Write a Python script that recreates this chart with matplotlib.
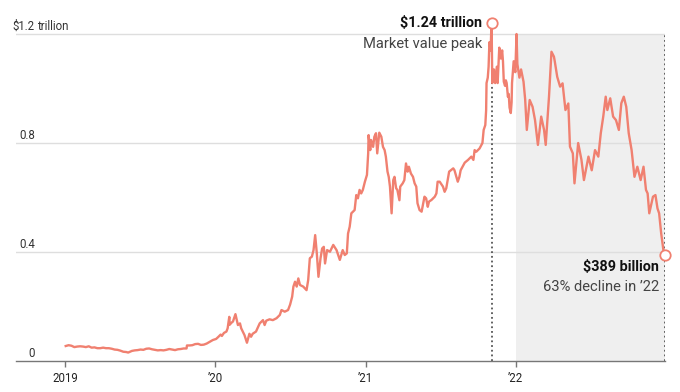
import matplotlib
matplotlib.use("Agg")
import matplotlib.pyplot as plt
import pandas as pd
from matplotlib import font_manager

# ---------------- data (market value, $ trillion) ----------------
dates = [
    # 2019
    "2019-01-02","2019-01-09","2019-01-16","2019-01-23","2019-01-30","2019-02-06","2019-02-13",
    "2019-02-20","2019-02-27","2019-03-06","2019-03-13","2019-03-20","2019-03-27","2019-04-03",
    "2019-04-10","2019-04-17","2019-04-24","2019-05-01","2019-05-08","2019-05-15","2019-05-22",
    "2019-05-29","2019-06-03","2019-06-12","2019-06-19","2019-06-26","2019-07-03","2019-07-10",
    "2019-07-17","2019-07-24","2019-07-31","2019-08-07","2019-08-14","2019-08-21","2019-08-28",
    "2019-09-04","2019-09-11","2019-09-18","2019-09-25","2019-10-02","2019-10-09","2019-10-16",
    "2019-10-23","2019-10-24","2019-10-30","2019-11-06","2019-11-13","2019-11-20","2019-11-27",
    "2019-12-04","2019-12-11","2019-12-18","2019-12-26",
    # 2020
    "2020-01-03","2020-01-08","2020-01-14","2020-01-17","2020-01-22","2020-01-28","2020-01-31",
    "2020-02-04","2020-02-05","2020-02-09","2020-02-13","2020-02-19","2020-02-25","2020-03-01",
    "2020-03-04","2020-03-12","2020-03-18","2020-03-24","2020-03-28","2020-04-01","2020-04-09",
    "2020-04-18","2020-04-26","2020-04-30","2020-05-04","2020-05-12","2020-05-20","2020-05-29",
    "2020-06-06","2020-06-10","2020-06-18","2020-06-26","2020-07-01","2020-07-06","2020-07-09",
    "2020-07-13","2020-07-17","2020-07-21","2020-07-25","2020-08-02","2020-08-10","2020-08-14",
    "2020-08-18","2020-08-23","2020-08-27","2020-08-31","2020-09-04","2020-09-08","2020-09-13",
    "2020-09-17","2020-09-21","2020-09-24","2020-09-29","2020-10-06","2020-10-14","2020-10-22",
    "2020-10-30","2020-11-06","2020-11-11","2020-11-16","2020-11-19","2020-11-23","2020-11-27",
    "2020-12-01","2020-12-05","2020-12-09","2020-12-13","2020-12-17","2020-12-21","2020-12-25",
    "2020-12-30",
    # 2021
    "2021-01-04","2021-01-07","2021-01-08","2021-01-12","2021-01-14","2021-01-19","2021-01-22",
    "2021-01-26","2021-01-29","2021-02-03","2021-02-08","2021-02-12","2021-02-16","2021-02-19",
    "2021-02-23","2021-02-26","2021-03-01","2021-03-05","2021-03-09","2021-03-12","2021-03-16",
    "2021-03-19","2021-03-24","2021-03-26","2021-04-01","2021-04-05","2021-04-09","2021-04-13",
    "2021-04-16","2021-04-21","2021-04-26","2021-04-30","2021-05-04","2021-05-07","2021-05-12",
    "2021-05-17","2021-05-20","2021-05-24","2021-05-28","2021-06-01","2021-06-04","2021-06-10",
    "2021-06-18","2021-06-22","2021-06-25","2021-06-30","2021-07-08","2021-07-12","2021-07-16",
    "2021-07-23","2021-08-02","2021-08-05","2021-08-13","2021-08-17","2021-08-20","2021-08-30",
    "2021-09-07","2021-09-15","2021-09-20","2021-09-23","2021-09-27","2021-10-05","2021-10-12",
    "2021-10-15","2021-10-19","2021-10-21","2021-10-22","2021-10-25","2021-10-27","2021-10-29",
    "2021-11-01","2021-11-02","2021-11-03","2021-11-04","2021-11-05","2021-11-09","2021-11-10",
    "2021-11-12","2021-11-16","2021-11-18","2021-11-22","2021-11-24","2021-11-26","2021-11-29",
    "2021-12-01","2021-12-03","2021-12-06","2021-12-08","2021-12-10","2021-12-13","2021-12-15",
    "2021-12-17","2021-12-20","2021-12-22","2021-12-23","2021-12-27","2021-12-28","2021-12-31",
    # 2022
    "2022-01-03","2022-01-05","2022-01-10","2022-01-14","2022-01-20","2022-01-24","2022-01-28",
    "2022-02-04","2022-02-11","2022-02-17","2022-02-24","2022-03-04","2022-03-11","2022-03-15",
    "2022-03-23","2022-03-29","2022-04-04","2022-04-06","2022-04-12","2022-04-19","2022-04-25",
    "2022-05-02","2022-05-09","2022-05-13","2022-05-20","2022-05-24","2022-06-02","2022-06-10",
    "2022-06-16","2022-06-27","2022-07-05","2022-07-13","2022-07-21","2022-07-27","2022-08-02",
    "2022-08-08","2022-08-12","2022-08-19","2022-08-26","2022-09-02","2022-09-09","2022-09-15",
    "2022-09-21","2022-09-27","2022-10-03","2022-10-10","2022-10-17","2022-10-24","2022-11-01",
    "2022-11-08","2022-11-14","2022-11-18","2022-11-22","2022-12-01","2022-12-07","2022-12-12",
    "2022-12-16","2022-12-21","2022-12-27","2022-12-30",
]
values = [
    # 2019
    0.055, 0.058, 0.056, 0.051, 0.053, 0.054, 0.053,
    0.051, 0.054, 0.049, 0.050, 0.047, 0.047, 0.049,
    0.047, 0.047, 0.045, 0.042, 0.041, 0.038, 0.034,
    0.033, 0.031, 0.037, 0.039, 0.040, 0.042, 0.041,
    0.045, 0.046, 0.043, 0.041, 0.039, 0.040, 0.039,
    0.041, 0.044, 0.042, 0.040, 0.043, 0.044, 0.046,
    0.046, 0.057, 0.057, 0.058, 0.062, 0.063, 0.059,
    0.060, 0.064, 0.070, 0.077,
    # 2020
    0.081, 0.088, 0.097, 0.092, 0.103, 0.108, 0.120,
    0.162, 0.133, 0.140, 0.145, 0.172, 0.132, 0.138,
    0.120, 0.095, 0.067, 0.100, 0.089, 0.100, 0.108,
    0.138, 0.150, 0.132, 0.148, 0.153, 0.150, 0.157,
    0.169, 0.187, 0.181, 0.187, 0.207, 0.236, 0.273,
    0.291, 0.273, 0.303, 0.279, 0.273, 0.260, 0.297,
    0.377, 0.383, 0.407, 0.462, 0.395, 0.309, 0.377,
    0.413, 0.419, 0.358, 0.407, 0.401, 0.426, 0.407,
    0.371, 0.407, 0.389, 0.395, 0.468, 0.493, 0.542,
    0.548, 0.554, 0.609, 0.597, 0.628, 0.615, 0.628,
    0.658,
    # 2021
    0.683, 0.762, 0.829, 0.774, 0.811, 0.786, 0.823,
    0.836, 0.762, 0.838, 0.823, 0.786, 0.774, 0.750,
    0.695, 0.676, 0.640, 0.542, 0.664, 0.676, 0.634,
    0.628, 0.590, 0.640, 0.652, 0.664, 0.725, 0.695,
    0.713, 0.688, 0.676, 0.652, 0.640, 0.579, 0.554,
    0.548, 0.572, 0.603, 0.597, 0.566, 0.585, 0.591,
    0.603, 0.615, 0.658, 0.658, 0.640, 0.621, 0.634,
    0.695, 0.707, 0.700, 0.658, 0.676, 0.700, 0.728,
    0.738, 0.750, 0.738, 0.774, 0.768, 0.780, 0.800,
    0.848, 0.866, 0.920, 1.020, 1.040, 1.080, 1.170,
    1.140, 1.190, 1.240, 1.150, 1.020, 1.070, 1.030,
    1.020, 1.080, 1.020, 1.150, 1.130, 1.110, 1.140,
    1.100, 1.025, 1.010, 1.030, 1.020, 0.970, 0.980,
    0.930, 0.910, 0.950, 1.020, 1.100, 1.090, 1.060,
    # 2022
    1.200, 1.090, 1.040, 1.070, 1.025, 0.960, 0.848,
    0.958, 0.933, 0.884, 0.793, 0.897, 0.848, 0.793,
    0.970, 1.135, 1.117, 1.100, 1.043, 1.007, 1.019,
    0.921, 0.945, 0.787, 0.762, 0.652, 0.800, 0.738,
    0.664, 0.750, 0.700, 0.774, 0.750, 0.836, 0.897,
    0.970, 0.921, 0.964, 0.897, 0.884, 0.848, 0.946,
    0.970, 0.933, 0.836, 0.774, 0.676, 0.713, 0.664,
    0.713, 0.628, 0.615, 0.542, 0.603, 0.609, 0.560,
    0.542, 0.468, 0.400, 0.389,
]
ytick_values = [0, 0.4, 0.8, 1.2]
ytick_labels = ["0", "0.4", "0.8", "$1.2"]
xtick_dates = ["2019-01-01", "2020-01-01", "2021-01-01", "2022-01-01"]
xtick_labels = ["2019", "\u201920", "\u201921", "\u201922"]
peak_date, peak_value = "2021-11-04", 1.24
end_date, end_value = "2022-12-30", 0.389

# ---------------- style ----------------
avail = {f.name for f in font_manager.fontManager.ttflist}
base = "Liberation Sans Narrow" if "Liberation Sans Narrow" in avail else "Roboto"
plt.rcParams["font.family"] = [base, "DejaVu Sans"]

LINE = "#F08070"
GRID = "#dedede"
SHADE = "#efefef"
DOT = "#555555"

W, H = 680, 392
fig = plt.figure(figsize=(W / 100, H / 100), dpi=100)
left_px, right_px = 16, 665.3
bottom_px, top_px = 361, 20.4
ax = fig.add_axes([left_px / W, 1 - bottom_px / H,
                   (right_px - left_px) / W, (bottom_px - top_px) / H])

x = pd.to_datetime(dates)
ax.set_xlim(pd.Timestamp("2018-09-03"), pd.Timestamp("2022-12-31"))
ax.set_ylim(0, 1.25)

# shaded 2022 region
ax.fill_between(pd.to_datetime(["2022-01-01", end_date]), 0, 1.2,
                color=SHADE, lw=0, zorder=0)

# gridlines
for v in ytick_values[1:]:
    ax.axhline(v, color=GRID, lw=1, zorder=1)

# dotted verticals
ax.plot([pd.Timestamp(peak_date)] * 2, [0, peak_value - 0.02], color=DOT,
        lw=1.3, ls=(0, (1, 1.6)), zorder=2)
ax.plot([pd.Timestamp(end_date)] * 2, [0, 1.2], color=DOT,
        lw=1.3, ls=(0, (1, 1.6)), zorder=2)

# line
ax.plot(x, values, color=LINE, lw=1.7, zorder=3, solid_joinstyle="round")

# markers
for d, v in [(peak_date, peak_value), (end_date, end_value)]:
    ax.plot([pd.Timestamp(d)], [v], marker="o", ms=7.5, mfc="white",
            mec=LINE, mew=1.3, zorder=5, clip_on=False)

# spines / ticks
for s in ["top", "right", "left"]:
    ax.spines[s].set_visible(False)
ax.spines["bottom"].set_color("#777777")
ax.spines["bottom"].set_linewidth(1)
ax.set_yticks([])
ax.set_xticks(pd.to_datetime(xtick_dates))
ax.set_xticklabels(xtick_labels, fontsize=8.3, color="#222222")
ax.tick_params(axis="x", length=4, width=1, color="#777777", pad=4)

# y labels (right-aligned numbers, above gridlines)
label_x = 35
for v, lab in zip(ytick_values, ytick_labels):
    ax.annotate(lab, xy=(0, v), xycoords=("axes fraction", "data"),
                xytext=(label_x - left_px, 4), textcoords="offset pixels",
                ha="right", va="baseline", fontsize=8.3, color="#333333")
ax.annotate("trillion", xy=(0, 1.2), xycoords=("axes fraction", "data"),
            xytext=(label_x - left_px + 2.5, 4), textcoords="offset pixels",
            ha="left", va="baseline", fontsize=8.3, color="#333333")

# annotations
pk = (pd.Timestamp(peak_date), peak_value)
ax.annotate("$1.24 trillion", xy=pk, xytext=(-10, 0), textcoords="offset pixels",
            ha="right", va="center", fontsize=10.4, fontweight="bold",
            color="#111111", annotation_clip=False)
ax.annotate("Market value peak", xy=pk, xytext=(-10, -21), textcoords="offset pixels",
            ha="right", va="center", fontsize=10.6, color="#444444",
            annotation_clip=False)
en = (pd.Timestamp(end_date), end_value)
ax.annotate("$389 billion", xy=en, xytext=(-6, -12), textcoords="offset pixels",
            ha="right", va="center", fontsize=10.4, fontweight="bold",
            color="#111111", annotation_clip=False)
ax.annotate("63% decline in \u201922", xy=en, xytext=(-6, -32), textcoords="offset pixels",
            ha="right", va="center", fontsize=10.6, color="#444444",
            annotation_clip=False)

fig.savefig("out.png", dpi=100)
